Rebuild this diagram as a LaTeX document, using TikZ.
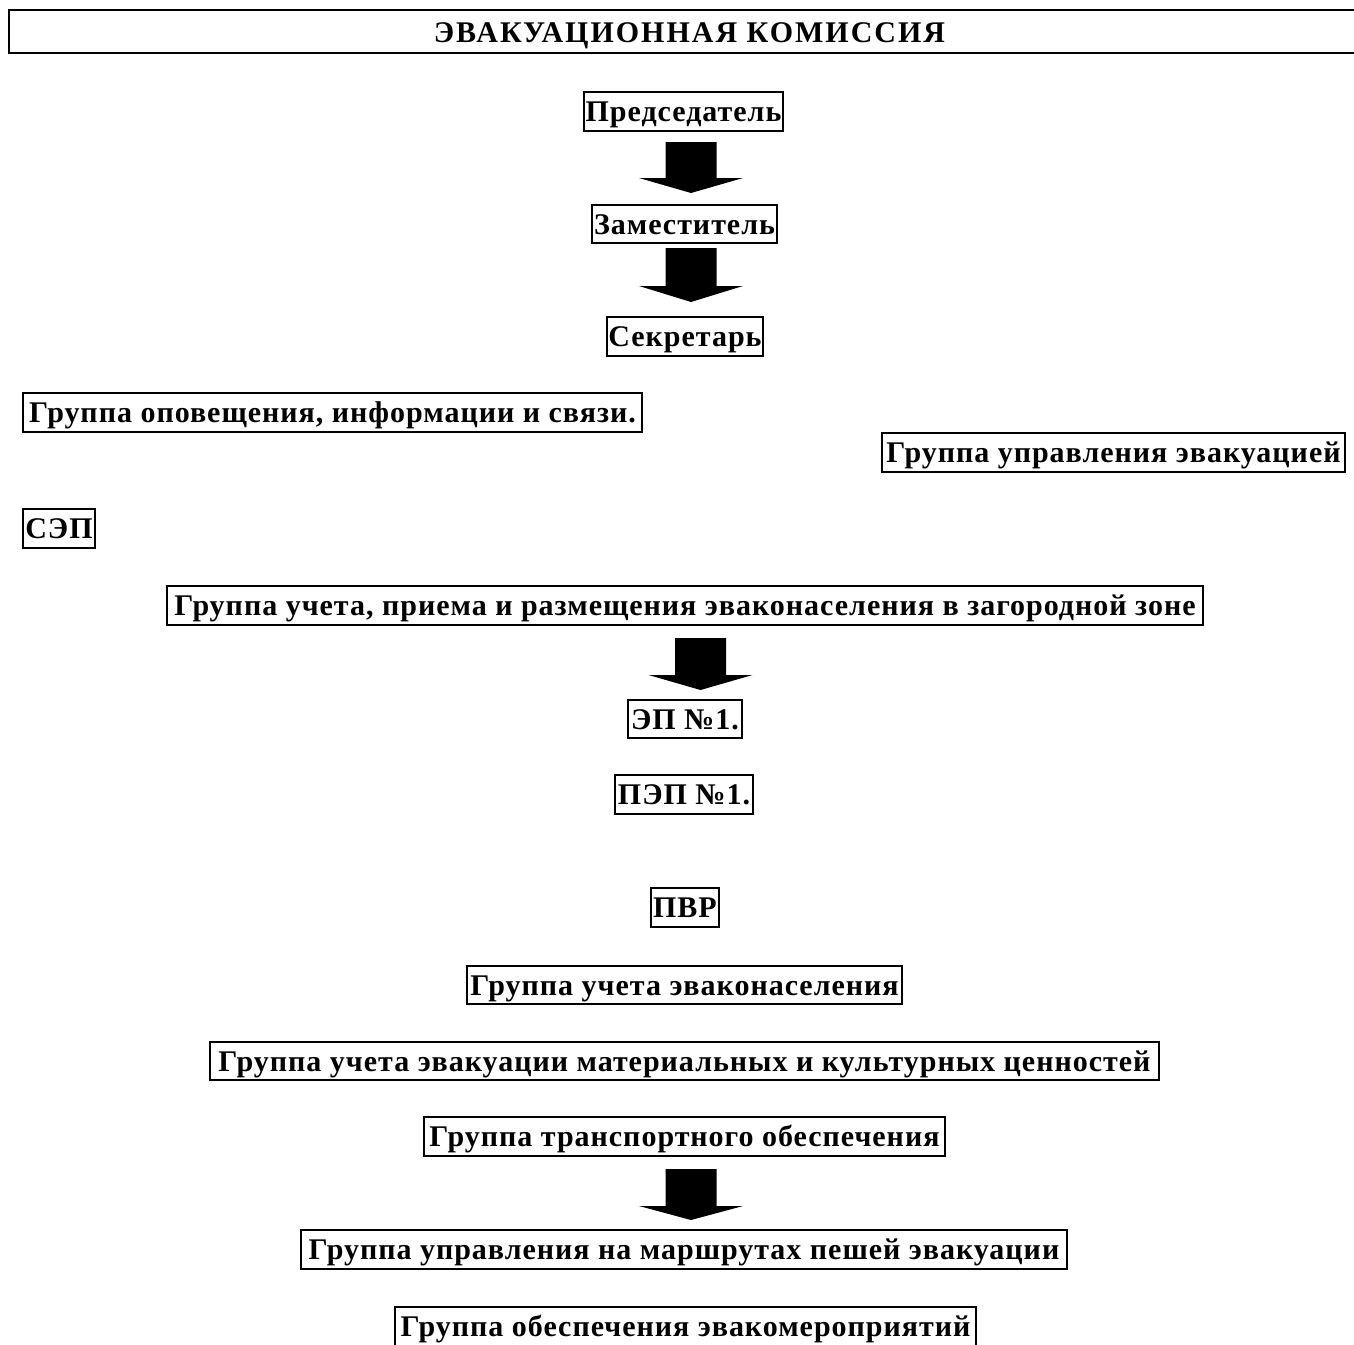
\documentclass[tikz,border=0pt]{standalone}
\usepackage{fontspec}
\setmainfont{Liberation Serif}
\newfontfamily\bodyfont[LetterSpace=3.3]{Liberation Serif}
\newfontfamily\titlefont[LetterSpace=6.7]{Liberation Serif}
\tikzset{
  box/.style={draw, line width=1pt, inner sep=0pt, align=center,
    font=\bodyfont\fontsize{15pt}{18pt}\selectfont\bfseries,
    text height=14.5pt, text depth=4.5pt},
  titlebox/.style={draw, line width=1.4pt, inner sep=0pt, align=center,
    font=\titlefont\fontsize{15pt}{18pt}\selectfont\bfseries,
    text height=16pt, text depth=5.5pt},
  blockarr/.style={fill=black, draw=none}
}
% name, left, right, top, bottom, text  (pixel units)
\newcommand{\pbox}[6]{%
  \node[box, minimum width={(#3-#2)*0.5pt}, minimum height={(#5-#4)*0.5pt}]
    (#1) at ({(#2+#3)/2},{(#4+#5)/2}) {#6};}
% centre x, shaft top, head top, tip
\newcommand{\barrow}[4]{%
  \fill[blockarr] ({#1-25.5},#2) -- ({#1+25.5},#2) -- ({#1+25.5},#3)
    -- ({#1+52},#3) -- (#1,#4) -- ({#1-52},#3) -- ({#1-25.5},#3) -- cycle;}
\begin{document}
\begin{tikzpicture}[x=0.5pt,y=-0.5pt]
\useasboundingbox (0,0) rectangle (1354,1344);
\fill[white] (0,0) rectangle (1354,1344);

\node[titlebox, minimum width={1361*0.5pt}, minimum height={43*0.5pt}]
  (title) at (689.5,31.5) {ЭВАКУАЦИОННАЯ КОМИССИЯ};

\pbox{pred}{584}{783}{92}{131}{Председатель}
\pbox{zam}{592}{777}{205}{243}{Заместитель}
\pbox{sekr}{607}{763}{317}{356}{Секретарь}
\pbox{opov}{23}{642}{393}{432}{Группа оповещения, информации и связи.}
\pbox{upr}{882}{1345}{433}{472}{Группа управления эвакуацией}
\pbox{sep}{23}{95}{509}{548}{СЭП}
\pbox{priem}{167}{1203}{586}{625}{Группа учета, приема и размещения эваконаселения в загородной зоне}
\pbox{ep}{628}{742}{700}{738}{ЭП №1.}
\pbox{pep}{615}{753}{775}{814}{ПЭП №1.}
\pbox{pvr}{651}{719}{888}{927}{ПВР}
\pbox{uchet}{467}{902}{966}{1004}{Группа учета эваконаселения}
\pbox{mat}{210}{1159}{1042}{1080}{Группа учета эвакуации материальных и культурных ценностей}
\pbox{trans}{424}{945}{1117}{1156}{Группа транспортного обеспечения}
\pbox{marsh}{301}{1067}{1230}{1269}{Группа управления на маршрутах пешей эвакуации}
\pbox{obesp}{395}{976}{1307}{1346}{Группа обеспечения эвакомероприятий}

\barrow{691}{142}{178}{193}
\barrow{691}{248}{286}{302}
\barrow{700.5}{638}{675}{690}
\barrow{691}{1169}{1206}{1220}
\end{tikzpicture}
\end{document}
